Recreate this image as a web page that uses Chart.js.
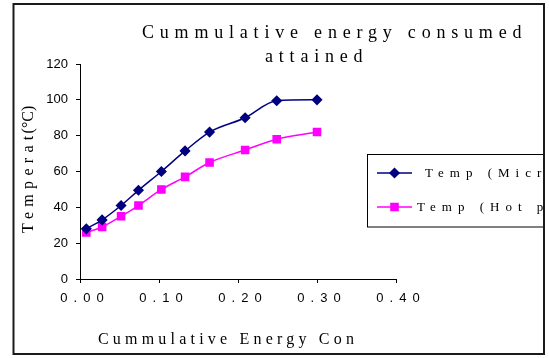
<!DOCTYPE html>
<html>
<head>
<meta charset="utf-8">
<script src="https://cdn.jsdelivr.net/npm/chart.js@4/dist/chart.umd.min.js"></script>
<style>
  body { margin: 0; background: #fff; }
  canvas { display: block; }
</style>
</head>
<body>
<canvas id="chart" width="549" height="358"></canvas>
<script>
// cumulative energy (x) and temperature readings for both heaters
const energy = [0.008, 0.028, 0.052, 0.074, 0.103, 0.133, 0.164, 0.209, 0.249, 0.300];
const tempMicrowave = [28, 33, 41, 49.5, 60, 71.5, 82, 90, 99.5, 100];
const tempHotPlate = [26, 29, 35, 41, 50, 57, 65, 72, 78, 82];
const seriesNames = ["Temp (Microwave)", "Temp (Hot plate)"];
const xTickValues = [0, 0.1, 0.2, 0.3, 0.4];
const yTickValues = [0, 20, 40, 60, 80, 100, 120];
const titleLines = ["Cummulative energy consumed", "attained"];
const xTitle = "Cummulative Energy Con";
const yTitle = ["Temperat", "(°C)"];

const serif = '"Liberation Serif", "Times New Roman", serif';
const sans = '"Liberation Sans", Arial, sans-serif';

function spacedText(ctx, text, x, y, size, gap) {
  ctx.font = size + "px " + serif;
  ctx.letterSpacing = gap + "px";
  ctx.fillText(text, x, y);
  return ctx.measureText(text).width;
}

const decor = {
  id: "decor",
  afterLayout(chart) {
    // x tick labels are drawn with wide letter spacing
    const xs = chart.scales.x;
    if (!xs._spaced) {
      const drawLabels = xs.drawLabels;
      xs.drawLabels = function (area) {
        const ctx = this.ctx;
        ctx.save();
        ctx.letterSpacing = "6px";
        ctx.translate(5, 0);
        drawLabels.call(this, area);
        ctx.restore();
      };
      xs._spaced = true;
    }
  },
  afterDraw(chart) {
    const ctx = chart.ctx;
    ctx.save();
    ctx.fillStyle = "#000";
    ctx.textAlign = "left";
    ctx.textBaseline = "alphabetic";

    // title
    spacedText(ctx, titleLines[0], 142, 38, 18, 5.8);
    spacedText(ctx, titleLines[1], 265, 62, 18, 5.8);

    // x axis title
    spacedText(ctx, xTitle, 98, 344, 16, 4.2);

    // y axis title, reading upwards
    ctx.save();
    ctx.translate(33, 233);
    ctx.rotate(-Math.PI / 2);
    const w = spacedText(ctx, yTitle[0], 0, 0, 16, 5.3);
    spacedText(ctx, yTitle[1], w - 3, 0, 16, 0);
    ctx.restore();

    // legend box, cut off by the frame on the right
    ctx.save();
    ctx.beginPath();
    ctx.rect(0, 0, 543, 358);
    ctx.clip();
    ctx.strokeStyle = "#000";
    ctx.lineWidth = 1;
    ctx.strokeRect(367.5, 154.5, 200, 72.5);
    const rows = [173, 207];
    const textX = [425, 417];
    chart.data.datasets.forEach((ds, i) => {
      const y = rows[i];
      ctx.strokeStyle = ds.borderColor;
      ctx.fillStyle = ds.backgroundColor;
      ctx.lineWidth = 1.5;
      ctx.beginPath();
      ctx.moveTo(377, y);
      ctx.lineTo(412, y);
      ctx.stroke();
      Chart.helpers.drawPoint(ctx, {
        pointStyle: ds.pointStyle,
        radius: ds.pointRadius,
        rotation: 0,
        borderWidth: 1
      }, 394.5, y);
      ctx.fillStyle = "#000";
      ctx.textBaseline = "middle";
      spacedText(ctx, ds.label, textX[i], y + 1, 13, 6);
    });
    ctx.restore();

    // outer frame
    ctx.letterSpacing = "0px";
    ctx.strokeStyle = "#1a1a1a";
    ctx.lineWidth = 2;
    ctx.strokeRect(13.5, 4, 530.5, 350);
    ctx.restore();
  }
};

new Chart("chart", {
  type: "scatter",
  data: {
    datasets: [{
      label: seriesNames[0],
      data: energy.map((x, i) => ({ x: x, y: tempMicrowave[i] })),
      showLine: true,
      borderColor: "#000080",
      backgroundColor: "#000080",
      borderWidth: 1.5,
      pointStyle: "rectRot",
      pointRadius: 4.5,
      pointHoverRadius: 4.5,
      cubicInterpolationMode: "monotone"
    }, {
      label: seriesNames[1],
      data: energy.map((x, i) => ({ x: x, y: tempHotPlate[i] })),
      showLine: true,
      borderColor: "#FF00FF",
      backgroundColor: "#FF00FF",
      borderWidth: 1.5,
      pointStyle: "rect",
      pointRadius: 5,
      pointHoverRadius: 5,
      cubicInterpolationMode: "monotone"
    }]
  },
  options: {
    responsive: false,
    animation: false,
    devicePixelRatio: 1,
    layout: {
      padding: { left: 0, top: 64, right: 153, bottom: 49 }
    },
    plugins: {
      legend: { display: false },
      title: { display: false },
      tooltip: { enabled: false }
    },
    scales: {
      x: {
        type: "linear",
        min: 0,
        max: 0.4,
        afterBuildTicks: (scale) => { scale.ticks = xTickValues.map(v => ({ value: v })); },
        afterFit: (scale) => { scale.height = 30; },
        grid: { drawOnChartArea: false, tickLength: 4, tickColor: "#000" },
        border: { color: "#000", width: 1 },
        ticks: {
          color: "#000",
          padding: 8,
          maxRotation: 0,
          font: { family: sans, size: 13 },
          callback: (v) => v.toFixed(2)
        }
      },
      y: {
        min: 0,
        max: 120,
        afterBuildTicks: (scale) => { scale.ticks = yTickValues.map(v => ({ value: v })); },
        afterFit: (scale) => { scale.width = 80; },
        grid: { drawOnChartArea: false, tickLength: 4, tickColor: "#000" },
        border: { color: "#000", width: 1 },
        ticks: {
          color: "#000",
          padding: 8,
          font: { family: sans, size: 13 }
        }
      }
    }
  },
  plugins: [decor]
});
</script>
</body>
</html>
